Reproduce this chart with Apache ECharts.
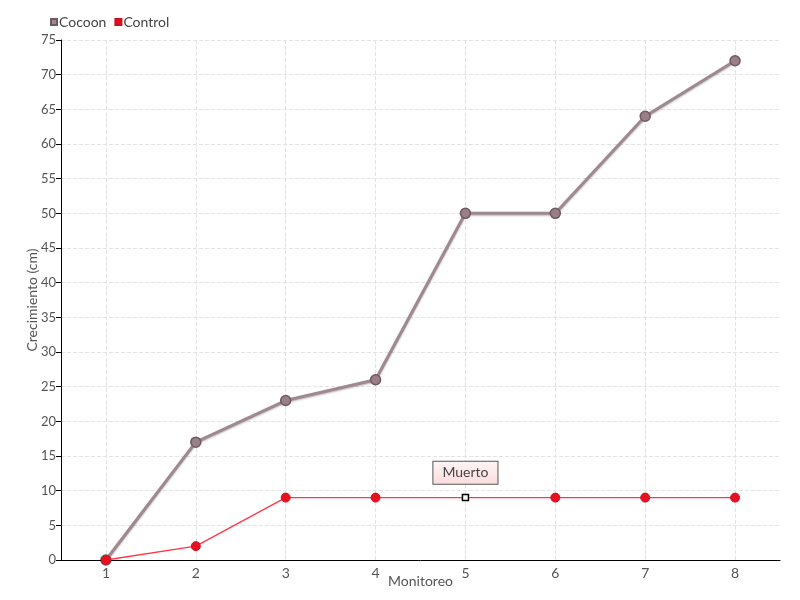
<!DOCTYPE html>
<html><head><meta charset="utf-8">
<script src="https://cdn.jsdelivr.net/npm/echarts@6/dist/echarts.min.js"></script>
<style>html,body{margin:0;padding:0;background:#fff}#c{width:800px;height:600px}</style>
</head><body><div id="c"></div>
<script>
const categories = ['1','2','3','4','5','6','7','8'];
const cocoon = [0,17,23,26,50,50,64,72];
const control = [0,2,9,9,9,9,9,9];
const deadIndex = 4;
const deadLabel = 'Muerto';

const FONT = 'Lato';
const chart = echarts.init(document.getElementById('c'));
const controlData = control.map((v,i)=> i===deadIndex ? {
  value: v, symbol:'rect', symbolSize:6,
  itemStyle:{color:'#fff', borderColor:'#000', borderWidth:1.5},
  label:{show:true, position:'top', distance:10, formatter: deadLabel, color:'#444', fontFamily:FONT, fontSize:14,
    backgroundColor:{type:'linear',x:0,y:0,x2:0,y2:1,colorStops:[{offset:0,color:'#fff5f5'},{offset:1,color:'#fcdcdc'}]},
    borderColor:'#555', borderWidth:1, padding:[4,9,4,9]}
} : v);
chart.setOption({
  animation:false,
  textStyle:{fontFamily:FONT},
  legend:{left:45, top:10, itemWidth:6, itemHeight:6, itemGap:8, icon:'rect',
    textStyle:{fontFamily:FONT, fontSize:14, color:'#444', padding:[0,0,0,-3]},
    data:[{name:'Cocoon', itemStyle:{color:'#a08890'}},{name:'Control', itemStyle:{color:'#e8101e'}}]},
  grid:{left:61, right:20, top:40, bottom:40, outerBoundsMode:'none', containLabel:false},
  xAxis:[{type:'category', data:categories, boundaryGap:true, name:'Monitoreo', nameLocation:'middle', nameGap:14, nameMoveOverlap:false,
    nameTextStyle:{fontFamily:FONT, fontSize:14, color:'#555'},
    axisLine:{lineStyle:{color:'#000', width:1}},
    axisTick:{alignWithLabel:true, lineStyle:{color:'#000'}, length:5},
    axisLabel:{fontFamily:FONT, fontSize:14, color:'#555', margin:6, interval:0},
    splitLine:{show:false}, z:3},
    {type:'value', min:0, max:16, interval:1, position:'top', show:true,
     axisLine:{show:false}, axisTick:{show:false}, axisLabel:{show:false},
     splitLine:{show:true, lineStyle:{type:'dashed', color:['rgba(0,0,0,0)','#e3e3e3']}}}],
  yAxis:{type:'value', min:0, max:75, interval:5, name:'Crecimiento (cm)', nameLocation:'middle', nameGap:22, nameMoveOverlap:false,
    nameTextStyle:{fontFamily:FONT, fontSize:14, color:'#555'},
    axisLine:{show:true, lineStyle:{color:'#000', width:1}},
    axisTick:{show:true, lineStyle:{color:'#000'}, length:5},
    axisLabel:{fontFamily:FONT, fontSize:13, color:'#555', margin:5},
    splitLine:{show:true, lineStyle:{type:'dashed', color:'#e3e3e3'}}},
  series:[
    {name:'Cocoon', type:'line', data:cocoon, symbol:'circle', symbolSize:10,
     lineStyle:{color:'#a08890', width:3, shadowColor:'rgba(0,0,0,0.3)', shadowBlur:2, shadowOffsetY:1},
     itemStyle:{color:'#9a7f88', borderColor:'#6e5a60', borderWidth:1.5}, z:2},
    {name:'Control', type:'line', data:controlData, symbol:'circle', symbolSize:9,
     lineStyle:{color:'#ff3848', width:1.3},
     itemStyle:{color:'#e8101e', borderColor:'#d01020', borderWidth:1}, z:3}
  ]
});
</script></body></html>
